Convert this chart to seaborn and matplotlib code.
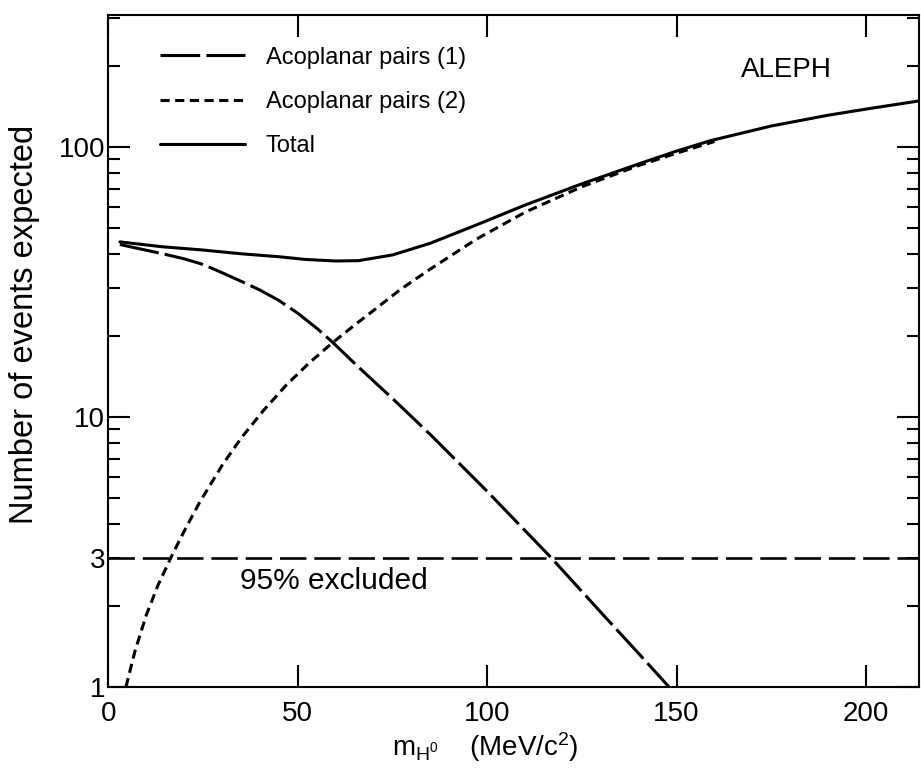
import numpy as np
import pandas as pd
import matplotlib
matplotlib.use("Agg")
import matplotlib.pyplot as plt
import matplotlib.ticker as mticker
import seaborn as sns

# ---- data ----
long_x = [3, 8, 14, 20, 25, 30, 35, 40, 45, 50, 55, 59, 66, 75, 85, 100, 117, 130, 140, 148]
long_y = [43.5, 42.0, 40.3, 38.5, 36.7, 34.2, 31.8, 29.5, 27.0, 24.2, 21.3, 19.0, 15.3, 11.7, 8.6, 5.3, 3.0, 1.89, 1.33, 1.0]

short_x = [4.6, 7, 10, 13, 16.7, 20, 24.1, 30, 35, 41, 47, 53, 59, 65, 70, 77, 85, 97, 110, 125, 140, 150, 160]
short_y = [1.0, 1.36, 1.85, 2.37, 3.06, 3.78, 4.84, 6.62, 8.34, 10.6, 13.15, 15.85, 18.75, 21.9, 24.8, 29.6, 35.3, 45.4, 57.3, 71.2, 85.3, 94.8, 104.7]

total_x = [3, 14, 25, 35, 45, 52, 60, 66, 75, 85, 97, 110, 125, 140, 150, 159, 175, 190, 200, 214]
total_y = [44.5, 42.7, 41.5, 40.2, 39.2, 38.3, 37.8, 37.9, 39.8, 44.0, 51.3, 60.9, 73.0, 86.5, 96.5, 105.5, 119.5, 131.0, 138.0, 148.0]

excl_level = 3
excl_label = "95% excluded"
series_labels = ["Acoplanar pairs (1)", "Acoplanar pairs (2)", "Total"]
x_ticks = [0, 50, 100, 150, 200]
y_major = [1, 10, 100]
y_labels = ["1", "10", "100"]

# ---- styling ----
sns.set_theme(style="ticks")
plt.rcParams["font.family"] = ["Liberation Sans", "DejaVu Sans"]
plt.rcParams["mathtext.fontset"] = "custom"
plt.rcParams["mathtext.rm"] = "Liberation Sans"
plt.rcParams["mathtext.it"] = "Liberation Sans:italic"
for key in ["text.color", "axes.labelcolor", "xtick.color", "ytick.color",
            "xtick.labelcolor", "ytick.labelcolor", "axes.edgecolor"]:
    plt.rcParams[key] = "black"

fig = plt.figure(figsize=(9.21, 7.79), dpi=100)
ax = fig.add_axes([0.1178, 0.1181, 0.880, 0.8627])

lw = 2.2
sns.lineplot(x=long_x, y=long_y, ax=ax, color="black", lw=lw,
             linestyle=(0, (13, 2)), label=series_labels[0])
sns.lineplot(x=short_x, y=short_y, ax=ax, color="black", lw=lw,
             linestyle=(0, (3, 1.8)), label=series_labels[1])
sns.lineplot(x=total_x, y=total_y, ax=ax, color="black", lw=lw,
             linestyle="-", label=series_labels[2])
ax.axhline(excl_level, color="black", lw=1.9, linestyle=(0, (10, 3)))

ax.set_yscale("log")
ax.set_xlim(0, 214)
ax.set_ylim(1, 308)

ax.set_xticks(x_ticks)
ax.set_xticklabels([str(t) for t in x_ticks])
ax.set_yticks(y_major)
ax.set_yticklabels(y_labels)
ax.yaxis.set_minor_locator(mticker.LogLocator(base=10, subs=np.arange(2, 10), numticks=20))
ax.yaxis.set_minor_formatter(mticker.FuncFormatter(lambda v, p: "3" if abs(v - 3) < 1e-6 else ""))
ax.xaxis.set_minor_locator(mticker.NullLocator())

ax.tick_params(axis="both", which="major", direction="in", length=16, width=1.5,
               top=True, right=True, labelsize=20, color="black", labelcolor="black")
ax.tick_params(axis="y", which="minor", direction="in", length=8.5, width=1.5,
               right=True, left=True, labelsize=20, color="black", labelcolor="black")
ax.tick_params(axis="x", which="major", pad=10)
ax.tick_params(axis="y", which="both", pad=2.5)
for s in ax.spines.values():
    s.set_linewidth(1.5)
    s.set_color("black")

ax.set_ylabel("Number of events expected", fontsize=23.5, color="black")
ax.yaxis.set_label_coords(-0.0845, 0.54)
ax.set_xlabel(r"m$_{\mathrm{H^0}}$    (MeV/c$^{\mathrm{2}}$)", fontsize=20, color="black")
ax.xaxis.set_label_coords(0.465, -0.065)

ax.text(34.7, 2.46, excl_label, fontsize=21.5, va="center", ha="left", color="black")
ax.text(0.893, 0.918, "ALEPH", transform=ax.transAxes, fontsize=20,
        ha="right", va="center", color="black")

leg = ax.legend(loc="upper left", frameon=False, fontsize=17,
                handlelength=3.6, handletextpad=0.85, labelspacing=0.94,
                bbox_to_anchor=(0.0525, 0.967), borderaxespad=0)
for t in leg.get_texts():
    t.set_color("black")
for h in leg.get_lines():
    h.set_linewidth(lw)

fig.savefig("out.png", dpi=100)
